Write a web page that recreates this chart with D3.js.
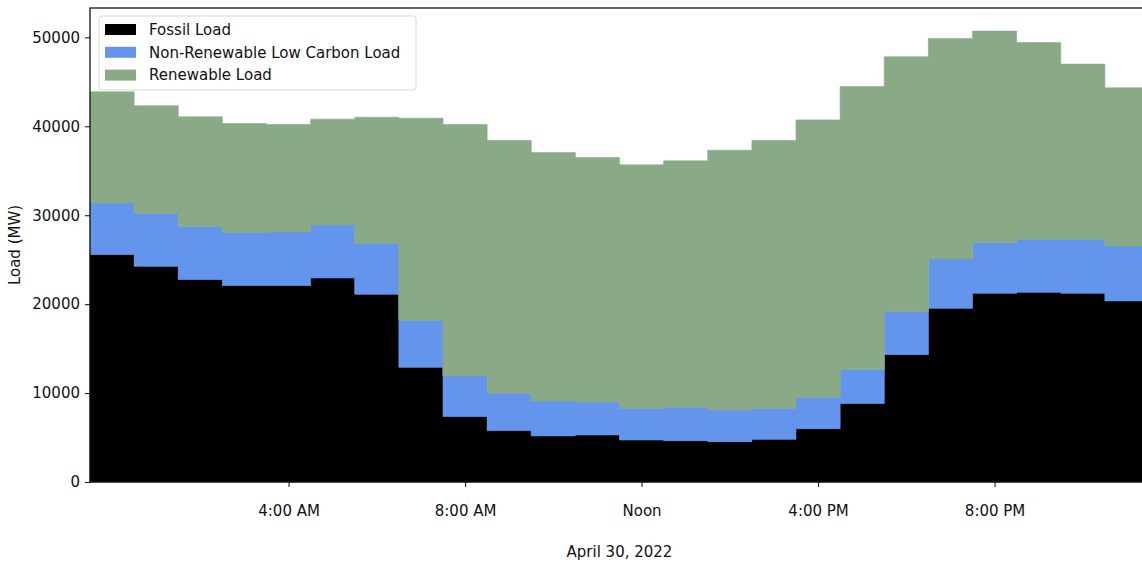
<!DOCTYPE html>
<html>
<head>
<meta charset="utf-8">
<script src="https://cdn.jsdelivr.net/npm/d3@7"></script>
<style>
  html, body { margin: 0; padding: 0; background: #fff; overflow: hidden; }
  svg { display: block; font-family: "DejaVu Sans", sans-serif; }
</style>
</head>
<body>
<svg id="chart" width="1142" height="562"></svg>
<script>
// hourly load, April 30 2022 (MW)
const hours = d3.range(24);
const fossil = [25580, 24260, 22770, 22090, 22090, 22950, 21110, 12900, 7360, 5780, 5180, 5290,
                4720, 4650, 4540, 4800, 6000, 8820, 14330, 19540, 21230, 21340, 21230, 20360];
const lowCarbon = [5800, 5930, 5960, 5960, 6030, 5960, 5710, 5290, 4560, 4200, 3930, 3710,
                   3570, 3750, 3560, 3490, 3530, 3820, 4840, 5540, 5700, 5960, 6070, 6190];
const renewable = [12490, 12110, 12330, 12260, 12080, 11890, 14200, 22720, 28280, 28420, 27940, 27490,
                   27370, 27710, 29210, 30110, 31190, 31830, 28640, 24790, 23770, 22130, 19690, 17770];

const seriesNames = ['Fossil Load', 'Non-Renewable Low Carbon Load', 'Renewable Load'];
const seriesKeys = ['fossil', 'lowCarbon', 'renewable'];
const colours = ['#000000', '#6495ed', '#89a987'];

const xTickHours = [4, 8, 12, 16, 20];
const xTickLabels = ['4:00 AM', '8:00 AM', 'Noon', '4:00 PM', '8:00 PM'];
const yTicks = [0, 10000, 20000, 30000, 40000, 50000];

const rows = hours.map((h, i) => ({ hour: h, fossil: fossil[i], lowCarbon: lowCarbon[i], renewable: renewable[i] }));

const svg = d3.select('#chart');
const mLeft = 90, mRight = 1149, mTop = 8, mBottom = 482;

const x = d3.scaleLinear().domain([-0.5, 23.5]).range([mLeft, mRight]);
const y = d3.scaleLinear().domain([0, 53300]).range([mBottom, mTop]);

const stacked = d3.stack().keys(seriesKeys)(rows);

// each hour is a flat step spanning h-0.5 .. h+0.5
function stepArea(layer) {
  const pts = [];
  layer.forEach((d, i) => {
    pts.push({ x: hours[i] - 0.5, y0: d[0], y1: d[1] });
    pts.push({ x: hours[i] + 0.5, y0: d[0], y1: d[1] });
  });
  return d3.area().x(p => x(p.x)).y0(p => y(p.y0)).y1(p => y(p.y1))(pts);
}

const plot = svg.append('g');
plot.selectAll('path.layer').data(stacked).enter().append('path')
  .attr('class', 'layer')
  .attr('d', stepArea)
  .attr('fill', (d, i) => colours[i])
  .attr('stroke', (d, i) => colours[i])
  .attr('stroke-width', 0.6);

// axes
const yAxis = d3.axisLeft(y).tickValues(yTicks).tickFormat(d3.format('d')).tickSize(5).tickPadding(5);
const yg = svg.append('g').attr('transform', `translate(${mLeft},0)`).call(yAxis);

const xAxis = d3.axisBottom(x).tickValues(xTickHours)
  .tickFormat((d, i) => xTickLabels[i]).tickSize(5).tickPadding(18);
const xg = svg.append('g').attr('transform', `translate(0,${mBottom})`).call(xAxis);

[yg, xg].forEach(g => {
  g.select('.domain').remove();
  g.selectAll('.tick line').attr('stroke', '#222').attr('stroke-width', 1.1);
  g.selectAll('.tick text').attr('font-size', 15).attr('fill', '#111')
    .attr('font-family', '"DejaVu Sans", sans-serif');
});

// frame
svg.append('rect')
  .attr('x', mLeft).attr('y', mTop)
  .attr('width', mRight - mLeft).attr('height', mBottom - mTop)
  .attr('fill', 'none').attr('stroke', '#111').attr('stroke-width', 1.3);

// axis titles
svg.append('text')
  .attr('transform', `translate(20,${(mTop + mBottom) / 2}) rotate(-90)`)
  .attr('text-anchor', 'middle').attr('font-size', 15).attr('fill', '#111')
  .text('Load (MW)');

svg.append('text')
  .attr('x', (mLeft + mRight) / 2).attr('y', 557)
  .attr('text-anchor', 'middle').attr('font-size', 15).attr('fill', '#111')
  .text('April 30, 2022');

// legend
const legend = svg.append('g').attr('transform', 'translate(99,16)');
legend.append('rect')
  .attr('width', 317).attr('height', 74).attr('rx', 3)
  .attr('fill', '#fff').attr('fill-opacity', 0.9)
  .attr('stroke', '#d8d8d8').attr('stroke-width', 1);

const item = legend.selectAll('g.item').data(seriesNames).enter().append('g')
  .attr('class', 'item')
  .attr('transform', (d, i) => `translate(6,${13.5 + i * 22.8})`);
item.append('rect')
  .attr('x', 0).attr('y', -5.5).attr('width', 31).attr('height', 11)
  .attr('fill', (d, i) => colours[i]);
item.append('text')
  .attr('x', 44).attr('y', 0).attr('dy', '0.35em')
  .attr('font-size', 15).attr('fill', '#111')
  .text(d => d);
</script>
</body>
</html>
